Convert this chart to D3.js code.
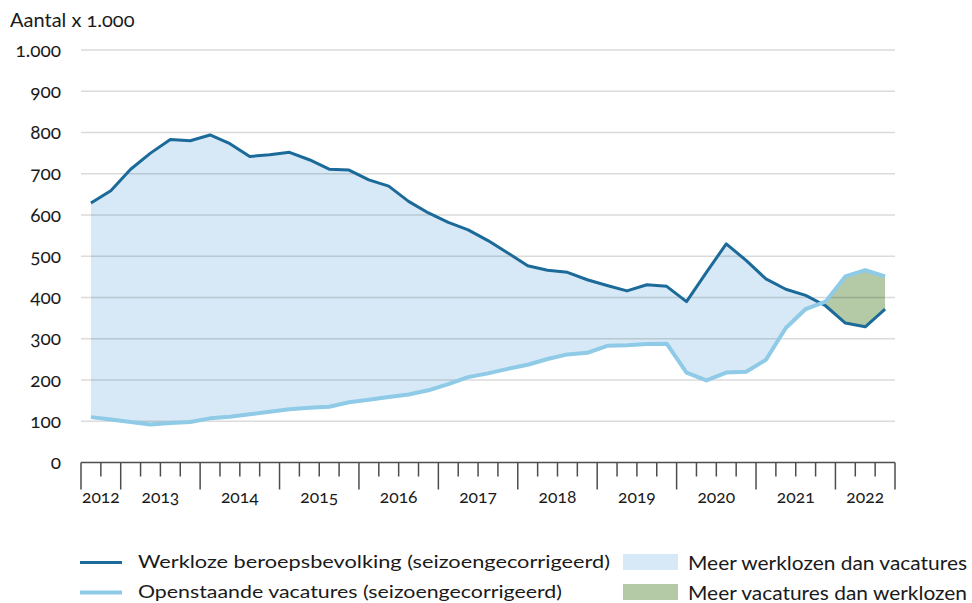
<!DOCTYPE html>
<html>
<head>
<meta charset="utf-8">
<script src="https://cdn.jsdelivr.net/npm/d3@7"></script>
<style>
  body { margin: 0; background: #fff; }
  text { font-family: Lato, "Noto Sans", sans-serif; fill: #1a1a1a; font-variant-numeric: oldstyle-nums; font-feature-settings: "onum" 1; }
</style>
</head>
<body>
<div id="chart"></div>
<script>
// quarters on the x axis (2012 K3 .. 2022 K3)
const quarters = [
  '2012K3','2012K4',
  '2013K1','2013K2','2013K3','2013K4',
  '2014K1','2014K2','2014K3','2014K4',
  '2015K1','2015K2','2015K3','2015K4',
  '2016K1','2016K2','2016K3','2016K4',
  '2017K1','2017K2','2017K3','2017K4',
  '2018K1','2018K2','2018K3','2018K4',
  '2019K1','2019K2','2019K3','2019K4',
  '2020K1','2020K2','2020K3','2020K4',
  '2021K1','2021K2','2021K3','2021K4',
  '2022K1','2022K2','2022K3'
];
const years = ['2012','2013','2014','2015','2016','2017','2018','2019','2020','2021','2022'];

// x 1.000, seizoengecorrigeerd
const werkloos = [
  629, 659,
  711, 750, 783, 780,
  794, 773, 742, 746,
  752, 734, 711, 709,
  685, 670, 633, 605,
  582, 564, 538, 508,
  477, 466, 461, 443,
  429, 416, 431, 427,
  390, 461, 530, 490,
  445, 420, 405, 380,
  338, 329, 372
];
const vacatures = [
  110, 104,
  98, 92, 96, 98,
  107, 111, 117, 123,
  129, 133, 135, 146,
  152, 159, 165, 175,
  190, 207, 216, 227,
  237, 251, 262, 266,
  283, 284, 287, 288,
  218, 199, 218, 220,
  249, 326, 372, 390,
  451, 466, 451
];
const yTicks = [0, 100, 200, 300, 400, 500, 600, 700, 800, 900, 1000];

const colorWerkloos = '#1b6a99',
      colorVacatures = '#8fcae7',
      fillMeerWerklozen = '#d7e9f6',
      fillMeerVacatures = '#b4c9a6';

const legendLines = [
  { label: 'Werkloze beroepsbevolking (seizoengecorrigeerd)', color: colorWerkloos, width: 3, len: 472 },
  { label: 'Openstaande vacatures (seizoengecorrigeerd)', color: colorVacatures, width: 4, len: 424 }
];
const legendAreas = [
  { label: 'Meer werklozen dan vacatures', color: fillMeerWerklozen, len: 279 },
  { label: 'Meer vacatures dan werklozen', color: fillMeerVacatures, len: 279 }
];

const W = 972, H = 603;
const m = { left: 81, right: 895, top: 50, bottom: 462.5 };

const svg = d3.select('#chart').append('svg')
  .attr('width', W)
  .attr('height', H);

const x = d3.scaleBand().domain(quarters).range([m.left, m.right]);
const y = d3.scaleLinear().domain([0, 1000]).range([m.bottom, m.top]);
const nl = d3.formatLocale({ decimal: ',', thousands: '.', grouping: [3], currency: ['€', ''] });
const fmt = nl.format(',d');

const data = quarters.map((q, i) => ({ q, u: werkloos[i], v: vacatures[i] }));
const xc = d => x(d.q) + x.bandwidth() / 2;

// difference areas (clip the band between both lines)
const defs = svg.append('defs');
defs.append('clipPath').attr('id', 'clip-u')
  .append('path').datum(data)
  .attr('d', d3.area().x(xc).y0(H).y1(d => y(d.u)));
defs.append('clipPath').attr('id', 'clip-v')
  .append('path').datum(data)
  .attr('d', d3.area().x(xc).y0(H).y1(d => y(d.v)));

const between = d3.area().x(xc).y0(d => y(d.v)).y1(d => y(d.u));

svg.append('path').datum(data)
  .attr('clip-path', 'url(#clip-u)')
  .attr('fill', fillMeerWerklozen)
  .attr('d', between);
svg.append('path').datum(data)
  .attr('clip-path', 'url(#clip-v)')
  .attr('fill', fillMeerVacatures)
  .attr('d', between);

// gridlines
svg.append('g').selectAll('line')
  .data(yTicks.filter(t => t > 0))
  .join('line')
  .attr('x1', m.left).attr('x2', m.right)
  .attr('y1', d => y(d)).attr('y2', d => y(d))
  .attr('stroke', '#000')
  .attr('stroke-opacity', 0.14)
  .attr('stroke-width', 1.5);

// y labels
svg.append('g').selectAll('text')
  .data(yTicks)
  .join('text')
  .attr('x', 61)
  .attr('y', d => y(d) + 6.5)
  .attr('text-anchor', 'end')
  .style('font-size', '19px')
  .text(d => fmt(d));

svg.append('text')
  .attr('x', 10).attr('y', 27)
  .style('font-size', '20px')
  .text('Aantal x 1.000');

// x axis: quarter ticks, longer ticks at year boundaries
const xAxis = svg.append('g');
xAxis.append('line')
  .attr('x1', m.left).attr('x2', m.right)
  .attr('y1', m.bottom).attr('y2', m.bottom)
  .attr('stroke', '#4d4d4d').attr('stroke-width', 1.5);

const edges = quarters.map(q => ({ pos: x(q), long: q.endsWith('K1') }));
edges[0].long = true;
edges.push({ pos: x(quarters[quarters.length - 1]) + x.bandwidth(), long: true });

xAxis.selectAll('.tick')
  .data(edges)
  .join('line')
  .attr('class', 'tick')
  .attr('x1', d => d.pos).attr('x2', d => d.pos)
  .attr('y1', m.bottom)
  .attr('y2', d => m.bottom + (d.long ? 27 : 14))
  .attr('stroke', '#4d4d4d').attr('stroke-width', 1.5);

xAxis.selectAll('.year')
  .data(years)
  .join('text')
  .attr('class', 'year')
  .attr('x', yr => {
    const qs = quarters.filter(q => q.startsWith(yr));
    return (x(qs[0]) + x(qs[qs.length - 1]) + x.bandwidth()) / 2;
  })
  .attr('y', 503)
  .attr('text-anchor', 'middle')
  .style('font-size', '17.5px')
  .text(d => d);

// lines
const lineU = d3.line().x(xc).y(d => y(d.u));
const lineV = d3.line().x(xc).y(d => y(d.v));

svg.append('path').datum(data)
  .attr('fill', 'none')
  .attr('stroke', colorWerkloos)
  .attr('stroke-width', 3)
  .attr('stroke-linejoin', 'round')
  .attr('d', lineU);
svg.append('path').datum(data)
  .attr('fill', 'none')
  .attr('stroke', colorVacatures)
  .attr('stroke-width', 4)
  .attr('stroke-linejoin', 'round')
  .attr('d', lineV);

// legend
const legL = svg.append('g').selectAll('g')
  .data(legendLines)
  .join('g')
  .attr('transform', (d, i) => `translate(80, ${562.5 + i * 30})`);
legL.append('line')
  .attr('x1', 0).attr('x2', 42)
  .attr('stroke', d => d.color)
  .attr('stroke-width', d => d.width);
legL.append('text')
  .attr('x', 58).attr('y', 5)
  .attr('textLength', d => d.len)
  .attr('lengthAdjust', 'spacingAndGlyphs')
  .style('font-size', '18px')
  .text(d => d.label);

const legA = svg.append('g').selectAll('g')
  .data(legendAreas)
  .join('g')
  .attr('transform', (d, i) => `translate(623, ${554 + i * 30})`);
legA.append('rect')
  .attr('width', 55).attr('height', 16)
  .attr('fill', d => d.color);
legA.append('text')
  .attr('x', 65).attr('y', 15.5)
  .attr('textLength', d => d.len)
  .attr('lengthAdjust', 'spacingAndGlyphs')
  .style('font-size', '19.5px')
  .text(d => d.label);
</script>
</body>
</html>
